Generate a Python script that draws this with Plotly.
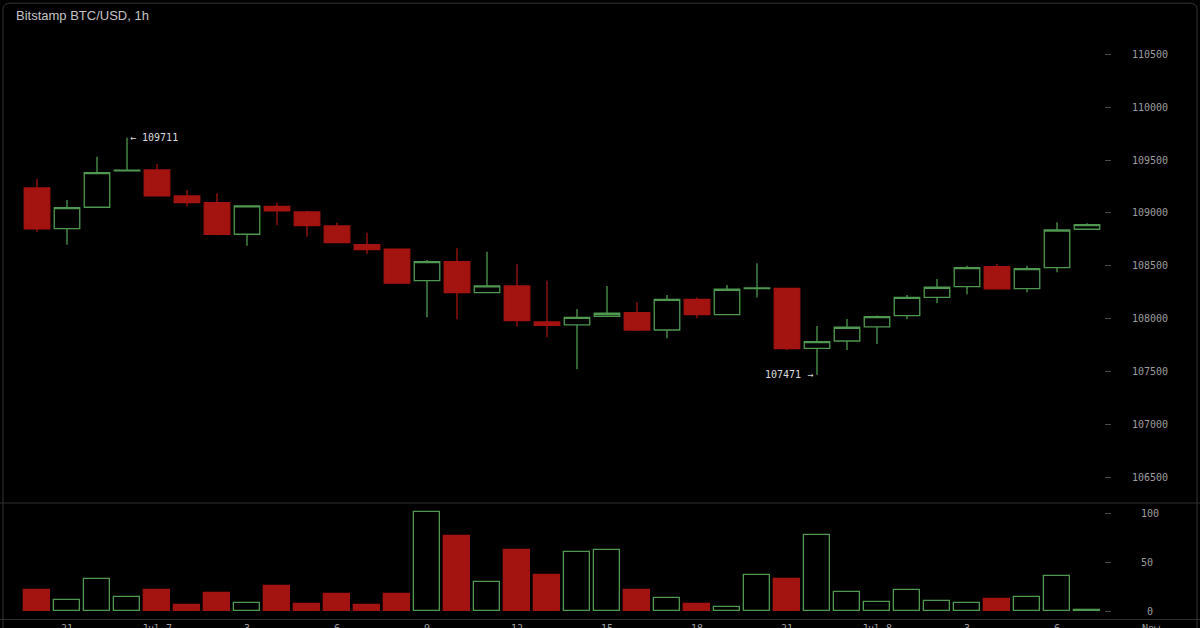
import pandas as pd
import plotly.graph_objects as go

# ---------------- data ----------------
title_text = "Bitstamp BTC/USD, 1h"
times = pd.date_range("2025-07-06 20:00", periods=36, freq="h")

opens = [109236, 108852, 109054, 109398, 109406, 109161, 109097, 108799, 109063, 109009,
         108877, 108700, 108657, 108360, 108540, 108247, 108310, 107970, 107942, 108024,
         108058, 107894, 108184, 108039, 108285, 108288, 107721, 107790, 107923, 108029,
         108203, 108304, 108493, 108285, 108483, 108846]
highs = [109321, 109123, 109532, 109711, 109463, 109217, 109186, 109070, 109097, 109020,
         108908, 108814, 108660, 108556, 108666, 108634, 108515, 108360, 108093, 108310,
         108156, 108225, 108200, 108320, 108525, 108290, 107932, 107998, 108030, 108225,
         108376, 108502, 108518, 108502, 108912, 108903]
lows = [108820, 108700, 109054, 109398, 109155, 109060, 108790, 108691, 108887, 108776,
        108715, 108613, 108330, 108014, 107995, 108245, 107926, 107825, 107523, 108020,
        107885, 107816, 108005, 108035, 108200, 107705, 107471, 107705, 107762, 107995,
        108147, 108232, 108280, 108251, 108440, 108845]
closes = [108849, 109050, 109381, 109405, 109161, 109097, 108799, 109066, 109019, 108880,
          108719, 108653, 108336, 108540, 108247, 108310, 107982, 107939, 108014, 108052,
          107894, 108184, 108039, 108279, 108292, 107718, 107784, 107920, 108020, 108203,
          108298, 108483, 108282, 108474, 108839, 108889]
volumes = [22, 11, 33, 14, 22, 6, 19, 8, 26, 7,
           18, 6, 18, 102, 77, 30, 63, 37, 61, 63,
           22, 13, 7, 4, 37, 33, 78, 20, 9, 22,
           10, 8, 12, 14, 36, 1]

price_ticks = [106500, 107000, 107500, 108000, 108500, 109000, 109500, 110000, 110500]
volume_ticks = [0, 50, 100]
volume_tick_text = ["\u00a00", "50", "100"]
time_tick_vals = ["2025-07-06 21:00", "2025-07-07 00:00", "2025-07-07 03:00", "2025-07-07 06:00",
                  "2025-07-07 09:00", "2025-07-07 12:00", "2025-07-07 15:00", "2025-07-07 18:00",
                  "2025-07-07 21:00", "2025-07-08 00:00", "2025-07-08 03:00", "2025-07-08 06:00",
                  "2025-07-08 09:08"]
time_tick_text = ["21", "Jul 7", "3", "6", "9", "12", "15", "18", "21", "Jul 8", "3", "6", "Now"]

# ---------------- styles ----------------
GREEN = "#4f984f"
RED = "#a3130f"
TICK = "#9d9d9d"
MONO = "DejaVu Sans Mono"

up = [c >= o for o, c in zip(opens, closes)]
vol_fill = ["rgba(0,0,0,0)" if u else RED for u in up]
vol_line = [GREEN if u else RED for u in up]

fig = go.Figure()
fig.add_trace(go.Candlestick(
    x=times, open=opens, high=highs, low=lows, close=closes,
    increasing=dict(line=dict(color=GREEN, width=1.3), fillcolor="rgba(0,0,0,0)"),
    decreasing=dict(line=dict(color=RED, width=1.3), fillcolor=RED),
    whiskerwidth=0, xaxis="x", yaxis="y", showlegend=False, hoverinfo="skip",
))
fig.add_trace(go.Bar(
    x=times, y=volumes, width=0.85 * 3600 * 1000,
    marker=dict(color=vol_fill, line=dict(color=vol_line, width=1.3)),
    xaxis="x2", yaxis="y2", showlegend=False, hoverinfo="skip",
))

# extreme labels
i_hi = highs.index(max(highs))
i_lo = lows.index(min(lows))
fig.add_annotation(x=times[i_hi], y=highs[i_hi], xref="x", yref="y",
                   text="\u2190 " + str(highs[i_hi]), showarrow=False,
                   xanchor="left", yanchor="middle", xshift=1,
                   font=dict(family=MONO, size=10, color="#dcdcdc"))
fig.add_annotation(x=times[i_lo], y=lows[i_lo], xref="x", yref="y",
                   text=str(lows[i_lo]) + " \u2192", showarrow=False,
                   xanchor="right", yanchor="middle", xshift=-2,
                   font=dict(family=MONO, size=10, color="#dcdcdc"))

# title
fig.add_annotation(x=14 / 1200, y=1 - 16 / 628, xref="paper", yref="paper",
                   text=title_text, showarrow=False, xanchor="left", yanchor="middle",
                   font=dict(family="Liberation Sans, Arial", size=13, color="#c4c4c4"))

x_start = times[0] - pd.Timedelta(minutes=74)
x_end = x_start + pd.Timedelta(hours=40)

PRICE_DOM = [125 / 628, 1 - 10 / 628]
VOL_DOM = [9 / 628, 125 / 628]
PRICE_RANGE = [106259, 110918]
VOL_RANGE = [-8.2, 111.3]

axis_common = dict(showgrid=False, zeroline=False, showline=False, ticks="outside",
                   ticklen=6, tickcolor="#4a4a4a", tickwidth=1, automargin=False,
                   tickfont=dict(family=MONO, size=10, color=TICK))

fig.update_layout(
    width=1200, height=628, autosize=False,
    margin=dict(l=0, r=0, t=0, b=0, pad=0),
    paper_bgcolor="#000000", plot_bgcolor="#000000",
    boxgap=0.15, boxgroupgap=0,
    bargap=0,
    xaxis=dict(domain=[0, 1], range=[x_start, x_end], anchor="y", showgrid=False,
               zeroline=False, showticklabels=False, rangeslider=dict(visible=False),
               showline=False, ticks="", automargin=False),
    xaxis2=dict(domain=[0, 1], range=[x_start, x_end], anchor="y2", matches="x",
                showgrid=False, zeroline=False, showline=True, linecolor="#2e2e2e",
                linewidth=1, ticks="", tickmode="array", tickvals=time_tick_vals,
                ticktext=time_tick_text, tickangle=0, automargin=False,
                tickfont=dict(family=MONO, size=10, color=TICK)),
    yaxis=dict(domain=PRICE_DOM, range=PRICE_RANGE, anchor="free", position=0.92,
               side="right", tickmode="array", tickvals=price_ticks,
               ticktext=[str(v) for v in price_ticks],
               ticklabelstandoff=19, **axis_common),
    yaxis2=dict(domain=VOL_DOM, range=VOL_RANGE, anchor="free", position=0.92,
                side="right", tickmode="array", tickvals=volume_ticks,
                ticktext=volume_tick_text,
                ticklabelstandoff=28, **axis_common),
    yaxis3=dict(domain=PRICE_DOM, range=PRICE_RANGE, anchor="free", position=0.999,
                overlaying="y", side="left", tickmode="array", tickvals=price_ticks,
                showticklabels=False, showgrid=False, zeroline=False, ticks="outside",
                ticklen=5, tickcolor="#4a4a4a", automargin=False),
    yaxis4=dict(domain=VOL_DOM, range=VOL_RANGE, anchor="free", position=0.999,
                overlaying="y2", side="left", tickmode="array", tickvals=volume_ticks,
                showticklabels=False, showgrid=False, zeroline=False, ticks="outside",
                ticklen=5, tickcolor="#4a4a4a", automargin=False),
    shapes=[
        dict(type="line", xref="paper", yref="paper", x0=0, x1=1,
             y0=VOL_DOM[1], y1=VOL_DOM[1], line=dict(color="#2e2e2e", width=1)),
        dict(type="path", xref="paper", yref="paper",
             path="M 0.0025,0.9 L 0.0025,0.986 Q 0.0025,0.995 0.009,0.995 L 0.991,0.995 "
                  "Q 0.9975,0.995 0.9975,0.986 L 0.9975,0.0",
             line=dict(color="#333333", width=1)),
        dict(type="line", xref="paper", yref="paper", x0=0.0025, x1=0.0025, y0=0, y1=0.9,
             line=dict(color="#333333", width=1)),
    ],
)

fig.write_html(
    "out.html",
    config={"displayModeBar": False},
    post_script="document.body.style.margin='0px';document.body.style.overflow='hidden';",
)
